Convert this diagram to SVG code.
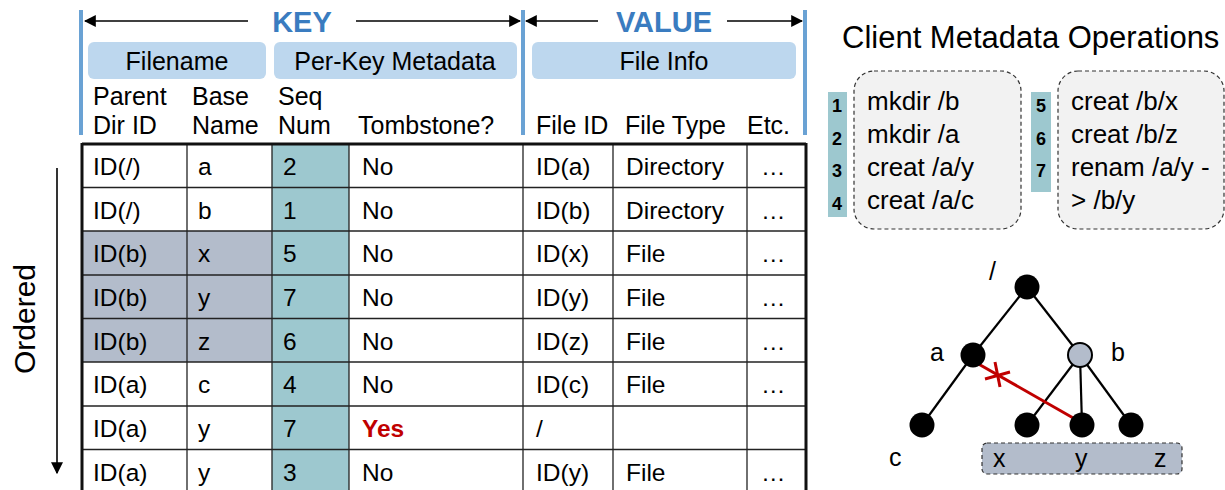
<svg xmlns="http://www.w3.org/2000/svg" width="1225" height="490" viewBox="0 0 1225 490">
  <style>
    text { font-family: "Liberation Sans", Arial, sans-serif; fill: #000; }
    .hdr { font-size: 25px; }
    .cell { font-size: 24.5px; }
    .pill { fill: #bdd7ee; }
    .pilltxt { font-size: 25px; text-anchor: middle; }
    .bar { stroke: #6aa2d4; stroke-width: 4; }
    .kv { font-size: 29px; font-weight: bold; fill: #3a7cc0; text-anchor: middle; }
    .arrow { stroke: #000; stroke-width: 1.6; fill: none; }
    .grid { stroke: #222; stroke-width: 1.3; }
    .outer { stroke: #111; stroke-width: 3; }
    .teal { fill: #9dc8cf; }
    .slate { fill: #b3bccb; }
    .ops { fill: #f2f2f2; stroke: #333; stroke-width: 1.2; stroke-dasharray: 4 3; }
    .optxt { font-size: 26px; }
    .num { font-size: 18px; font-weight: bold; text-anchor: middle; }
    .edge { stroke: #000; stroke-width: 2.2; }
    .node { fill: #000; }
    .tlabel { font-size: 25px; }
    .red { stroke: #c00000; stroke-width: 3; }
  </style>
  <defs>
    <marker id="ahBig" viewBox="0 0 10 10" refX="9" refY="5" markerWidth="12" markerHeight="12" markerUnits="userSpaceOnUse" orient="auto">
      <path d="M0,0 L10,5 L0,10 z" fill="#000"/>
    </marker>
  </defs>

  <!-- KEY / VALUE span headers -->
  <g id="span-headers">
    <line class="bar" x1="81" y1="10" x2="81" y2="135"/>
    <line class="bar" x1="523" y1="10" x2="523" y2="135"/>
    <line class="bar" x1="805" y1="10" x2="805" y2="135"/>
    <line class="arrow" x1="248" y1="21" x2="85" y2="21" marker-end="url(#ahBig)"/>
    <text class="kv" x="302" y="32">KEY</text>
    <line class="arrow" x1="356" y1="21" x2="520" y2="21" marker-end="url(#ahBig)"/>
    <line class="arrow" x1="598" y1="21" x2="526" y2="21" marker-end="url(#ahBig)"/>
    <text class="kv" x="664" y="32">VALUE</text>
    <line class="arrow" x1="727" y1="21" x2="802" y2="21" marker-end="url(#ahBig)"/>
  </g>

  <!-- column group pills -->
  <g id="group-filename">
    <rect class="pill" x="88" y="42" width="178" height="37" rx="6"/>
    <text class="pilltxt" x="177" y="70">Filename</text>
  </g>
  <g id="group-perkey">
    <rect class="pill" x="274" y="42" width="243" height="37" rx="6"/>
    <text class="pilltxt" x="395" y="70">Per-Key Metadata</text>
  </g>
  <g id="group-fileinfo">
    <rect class="pill" x="532" y="42" width="264" height="37" rx="6"/>
    <text class="pilltxt" x="664" y="70">File Info</text>
  </g>

  <!-- column headings -->
  <g id="column-headings">
    <text class="hdr" x="93" y="105">Parent</text>
    <text class="hdr" x="93" y="134">Dir ID</text>
    <text class="hdr" x="192" y="105">Base</text>
    <text class="hdr" x="192" y="134">Name</text>
    <text class="hdr" x="278" y="105">Seq</text>
    <text class="hdr" x="278" y="134">Num</text>
    <text class="hdr" x="358" y="134">Tombstone?</text>
    <text class="hdr" x="536" y="134">File ID</text>
    <text class="hdr" x="625" y="134">File Type</text>
    <text class="hdr" x="747" y="134">Etc.</text>
  </g>

  <!-- table -->
  <g id="table">
    <rect class="teal" x="272" y="144" width="77" height="346"/>
    <rect class="slate" x="82" y="231" width="190" height="131"/>
    <g class="grid">
      <line x1="82" y1="187.5" x2="806" y2="187.5"/>
      <line x1="82" y1="231" x2="806" y2="231"/>
      <line x1="82" y1="275" x2="806" y2="275"/>
      <line x1="82" y1="318.5" x2="806" y2="318.5"/>
      <line x1="82" y1="362" x2="806" y2="362"/>
      <line x1="82" y1="406" x2="806" y2="406"/>
      <line x1="82" y1="449.5" x2="806" y2="449.5"/>
      <line x1="187" y1="144" x2="187" y2="490"/>
      <line x1="272" y1="144" x2="272" y2="490"/>
      <line x1="349" y1="144" x2="349" y2="490"/>
      <line x1="523" y1="144" x2="523" y2="490"/>
      <line x1="613" y1="144" x2="613" y2="490"/>
      <line x1="747" y1="144" x2="747" y2="490"/>
    </g>
    <g class="outer">
      <line x1="82" y1="144" x2="806" y2="144"/>
      <line x1="82" y1="143" x2="82" y2="490"/>
      <line x1="806" y1="143" x2="806" y2="490"/>
    </g>
    <!-- row 1 -->
    <text class="cell" x="93" y="175">ID(/)</text><text class="cell" x="198" y="175">a</text><text class="cell" x="283" y="175">2</text><text class="cell" x="362" y="175">No</text><text class="cell" x="536" y="175">ID(a)</text><text class="cell" x="626" y="175">Directory</text><text class="cell" x="761" y="175">…</text>
    <!-- row 2 -->
    <text class="cell" x="93" y="219">ID(/)</text><text class="cell" x="198" y="219">b</text><text class="cell" x="283" y="219">1</text><text class="cell" x="362" y="219">No</text><text class="cell" x="536" y="219">ID(b)</text><text class="cell" x="626" y="219">Directory</text><text class="cell" x="761" y="219">…</text>
    <!-- row 3 -->
    <text class="cell" x="93" y="262">ID(b)</text><text class="cell" x="198" y="262">x</text><text class="cell" x="283" y="262">5</text><text class="cell" x="362" y="262">No</text><text class="cell" x="536" y="262">ID(x)</text><text class="cell" x="626" y="262">File</text><text class="cell" x="761" y="262">…</text>
    <!-- row 4 -->
    <text class="cell" x="93" y="306">ID(b)</text><text class="cell" x="198" y="306">y</text><text class="cell" x="283" y="306">7</text><text class="cell" x="362" y="306">No</text><text class="cell" x="536" y="306">ID(y)</text><text class="cell" x="626" y="306">File</text><text class="cell" x="761" y="306">…</text>
    <!-- row 5 -->
    <text class="cell" x="93" y="350">ID(b)</text><text class="cell" x="198" y="350">z</text><text class="cell" x="283" y="350">6</text><text class="cell" x="362" y="350">No</text><text class="cell" x="536" y="350">ID(z)</text><text class="cell" x="626" y="350">File</text><text class="cell" x="761" y="350">…</text>
    <!-- row 6 -->
    <text class="cell" x="93" y="393">ID(a)</text><text class="cell" x="198" y="393">c</text><text class="cell" x="283" y="393">4</text><text class="cell" x="362" y="393">No</text><text class="cell" x="536" y="393">ID(c)</text><text class="cell" x="626" y="393">File</text><text class="cell" x="761" y="393">…</text>
    <!-- row 7 -->
    <text class="cell" x="93" y="437">ID(a)</text><text class="cell" x="198" y="437">y</text><text class="cell" x="283" y="437">7</text><text class="cell" x="362" y="437" style="fill:#c00000;font-weight:bold">Yes</text><text class="cell" x="536" y="437">/</text>
    <!-- row 8 -->
    <text class="cell" x="93" y="481">ID(a)</text><text class="cell" x="198" y="481">y</text><text class="cell" x="283" y="481">3</text><text class="cell" x="362" y="481">No</text><text class="cell" x="536" y="481">ID(y)</text><text class="cell" x="626" y="481">File</text><text class="cell" x="761" y="481">…</text>
  </g>

  <!-- ordering axis -->
  <g id="ordered">
    <line class="arrow" x1="57" y1="168" x2="57" y2="473" marker-end="url(#ahBig)"/>
    <text x="35" y="319" font-size="30" text-anchor="middle" transform="rotate(-90 35 319)">Ordered</text>
  </g>

  <!-- client operations -->
  <g id="ops-title">
    <text x="842" y="48" font-size="31">Client Metadata Operations</text>
  </g>
  <g id="ops-left">
    <rect class="ops" x="854" y="71" width="167" height="158" rx="20"/>
    <rect class="teal" x="828" y="92" width="19" height="125"/>
    <text class="num" x="837" y="112">1</text>
    <text class="num" x="837" y="145">2</text>
    <text class="num" x="837" y="177">3</text>
    <text class="num" x="837" y="210">4</text>
    <text class="optxt" x="867" y="110">mkdir /b</text>
    <text class="optxt" x="867" y="143">mkdir /a</text>
    <text class="optxt" x="867" y="176">creat /a/y</text>
    <text class="optxt" x="867" y="209">creat /a/c</text>
  </g>
  <g id="ops-right">
    <rect class="ops" x="1058" y="71" width="166" height="158" rx="20"/>
    <rect class="teal" x="1031" y="92" width="20" height="100"/>
    <text class="num" x="1041" y="112">5</text>
    <text class="num" x="1041" y="145">6</text>
    <text class="num" x="1041" y="177">7</text>
    <text class="optxt" x="1071" y="110">creat /b/x</text>
    <text class="optxt" x="1071" y="143">creat /b/z</text>
    <text class="optxt" x="1071" y="176">renam /a/y -</text>
    <text class="optxt" x="1071" y="209">&gt; /b/y</text>
  </g>

  <!-- directory tree -->
  <g id="tree-edges">
    <line class="edge" x1="1027" y1="287" x2="973" y2="355"/>
    <line class="edge" x1="1027" y1="287" x2="1080" y2="355"/>
    <line class="edge" x1="973" y1="355" x2="922" y2="425"/>
    <line class="edge" x1="1080" y1="355" x2="1027" y2="425"/>
    <line class="edge" x1="1080" y1="355" x2="1082" y2="425"/>
    <line class="edge" x1="1080" y1="355" x2="1131" y2="425"/>
    <!-- removed link a -> y, struck through -->
    <line class="red" x1="975" y1="362" x2="1075" y2="419"/>
    <line class="red" x1="985" y1="379" x2="1010" y2="372"/>
    <line class="red" x1="995" y1="362" x2="1000" y2="387"/>
  </g>
  <g id="xyz-group">
    <rect x="982" y="443" width="200" height="31" rx="5" fill="#b3bccb" stroke="#333" stroke-width="1.2" stroke-dasharray="4 3"/>
  </g>
  <g id="node-root">
    <circle class="node" cx="1027" cy="287" r="12.5"/>
    <text class="tlabel" x="989" y="280">/</text>
  </g>
  <g id="node-a">
    <circle class="node" cx="973" cy="355" r="12.5"/>
    <text class="tlabel" x="930" y="361">a</text>
  </g>
  <g id="node-b">
    <circle cx="1080" cy="355" r="12" fill="#b3bccb" stroke="#000" stroke-width="2"/>
    <text class="tlabel" x="1111" y="361">b</text>
  </g>
  <g id="node-c">
    <circle class="node" cx="922" cy="425" r="12.5"/>
    <text class="tlabel" x="889" y="466">c</text>
  </g>
  <g id="node-x">
    <circle class="node" cx="1027" cy="425" r="12.5"/>
    <text class="tlabel" x="993" y="467">x</text>
  </g>
  <g id="node-y">
    <circle class="node" cx="1082" cy="425" r="12.5"/>
    <text class="tlabel" x="1075" y="467">y</text>
  </g>
  <g id="node-z">
    <circle class="node" cx="1131" cy="425" r="12.5"/>
    <text class="tlabel" x="1154" y="467">z</text>
  </g>
</svg>
